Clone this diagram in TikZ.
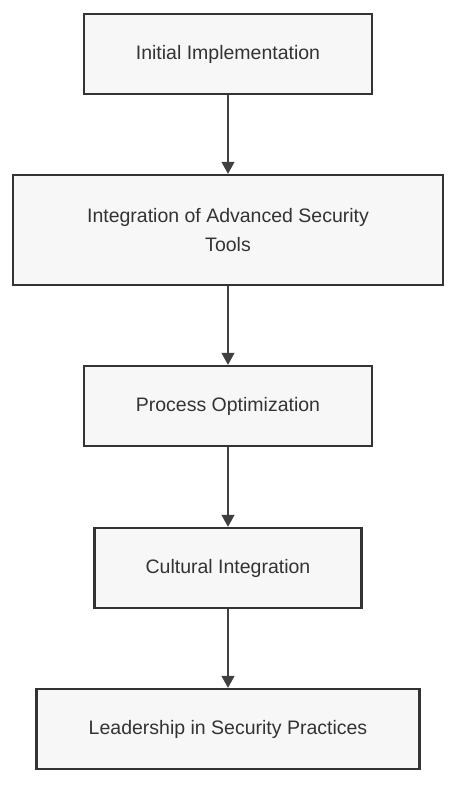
\documentclass[tikz,border=0pt]{standalone}
\usepackage{fontspec}
\setmainfont{Liberation Sans}
\usetikzlibrary{arrows.meta}

\begin{document}
\begin{tikzpicture}[x=1pt,y=-1pt,>=Triangle,line join=miter,
    stage/.style={draw=black!80,line width=2.4pt,fill=black!3,
      text=black!80,align=center,inner sep=0pt,
      font=\fontsize{19.5}{29}\selectfont},
    flow/.style={->,draw=black!75,line width=1.4pt,
      arrows={-Triangle[length=12pt,width=13pt]}}]
    \useasboundingbox (0,0) rectangle (461,788);

    % The five stages, top to bottom.
    \node[stage,minimum width=288,minimum height=80] (init)    at (228, 54) {Initial Implementation};
    \node[stage,minimum width=430,minimum height=110] (tools)  at (228,230)
      {Integration of Advanced Security\\Tools};
    \node[stage,minimum width=288,minimum height=80] (optim)   at (228,406) {Process Optimization};
    \node[stage,minimum width=267,minimum height=80] (culture) at (228,568) {Cultural Integration};
    \node[stage,minimum width=383,minimum height=80] (lead)    at (228,729) {Leadership in Security Practices};

    % Each stage leads into the next one.
    \draw[flow] (init)    -- (tools);
    \draw[flow] (tools)   -- (optim);
    \draw[flow] (optim)   -- (culture);
    \draw[flow] (culture) -- (lead);
  \end{tikzpicture}
\end{document}
